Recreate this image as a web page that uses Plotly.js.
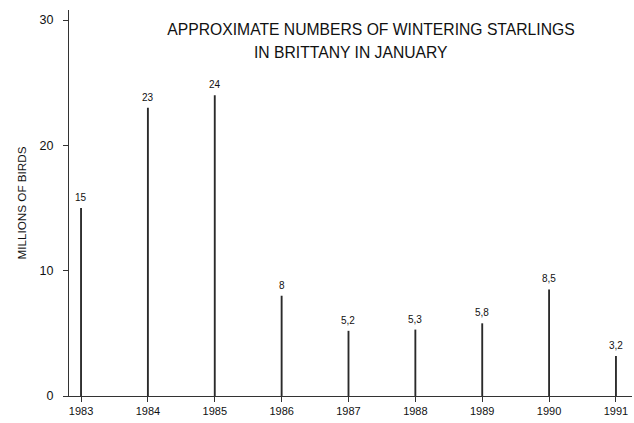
<!DOCTYPE html>
<html>
<head>
<meta charset="utf-8">
<script src="https://cdn.plot.ly/plotly-3.0.1.min.js"></script>
<style>html,body{margin:0;padding:0;background:#fff;}#chart{width:634px;height:423px;}</style>
</head>
<body>
<div id="chart"></div>
<script>
const years = [1983, 1984, 1985, 1986, 1987, 1988, 1989, 1990, 1991];
const birds = [15, 23, 24, 8, 5.2, 5.3, 5.8, 8.5, 3.2];
const labels = ["15", "23", "24", "8", "5,2", "5,3", "5,8", "8,5", "3,2"];
const yTicks = [0, 10, 20, 30];

const font = "Liberation Sans, Arial, Helvetica, sans-serif";

const trace = {
  type: "bar",
  x: years,
  y: birds,
  width: 0.028,
  marker: {color: "#2a2a2a", line: {width: 0}},
  hoverinfo: "skip"
};

const valueLabels = years.map((yr, i) => ({
  text: labels[i],
  x: yr, y: birds[i],
  xref: "x", yref: "y",
  xanchor: "center", yanchor: "bottom",
  yshift: 3,
  showarrow: false,
  font: {family: font, size: 10, color: "#111"}
}));

const layout = {
  width: 634, height: 423,
  margin: {l: 69, r: 2, t: 10, b: 27},
  paper_bgcolor: "#fff", plot_bgcolor: "#fff",
  showlegend: false,
  font: {family: font, color: "#111"},
  title: {
    text: "APPROXIMATE NUMBERS OF WINTERING STARLINGS",
    font: {family: font, size: 15.7, color: "#111"},
    x: 371 / 634, xanchor: "center", xref: "container",
    y: 1 - 30 / 423, yanchor: "middle", yref: "container"
  },
  annotations: [{
    text: "IN BRITTANY IN JANUARY",
    xref: "paper", yref: "paper",
    x: (351 - 69) / (634 - 71), y: (396 - 53) / 386,
    xanchor: "center", yanchor: "middle",
    showarrow: false,
    font: {family: font, size: 15.7, color: "#111"}
  }].concat(valueLabels),
  xaxis: {
    range: [1982.82, 1991.24],
    tickvals: years,
    ticktext: years.map(String),
    ticks: "outside", ticklen: 5, tickwidth: 1, tickcolor: "#333",
    showline: true, linecolor: "#333", linewidth: 1,
    showgrid: false, zeroline: false,
    tickfont: {family: font, size: 11, color: "#111"}
  },
  yaxis: {
    range: [0, 30.8],
    tickvals: yTicks,
    ticktext: yTicks.map(String),
    ticks: "outside", ticklen: 5, tickwidth: 1, tickcolor: "#333",
    ticklabelstandoff: 7,
    showline: true, linecolor: "#333", linewidth: 1,
    showgrid: false, zeroline: false,
    tickfont: {family: font, size: 12.5, color: "#111"},
    title: {text: "MILLIONS OF BIRDS", font: {family: font, size: 11.7, color: "#111"}, standoff: 10}
  }
};

Plotly.newPlot("chart", [trace], layout, {displayModeBar: false, staticPlot: true});
</script>
</body>
</html>
